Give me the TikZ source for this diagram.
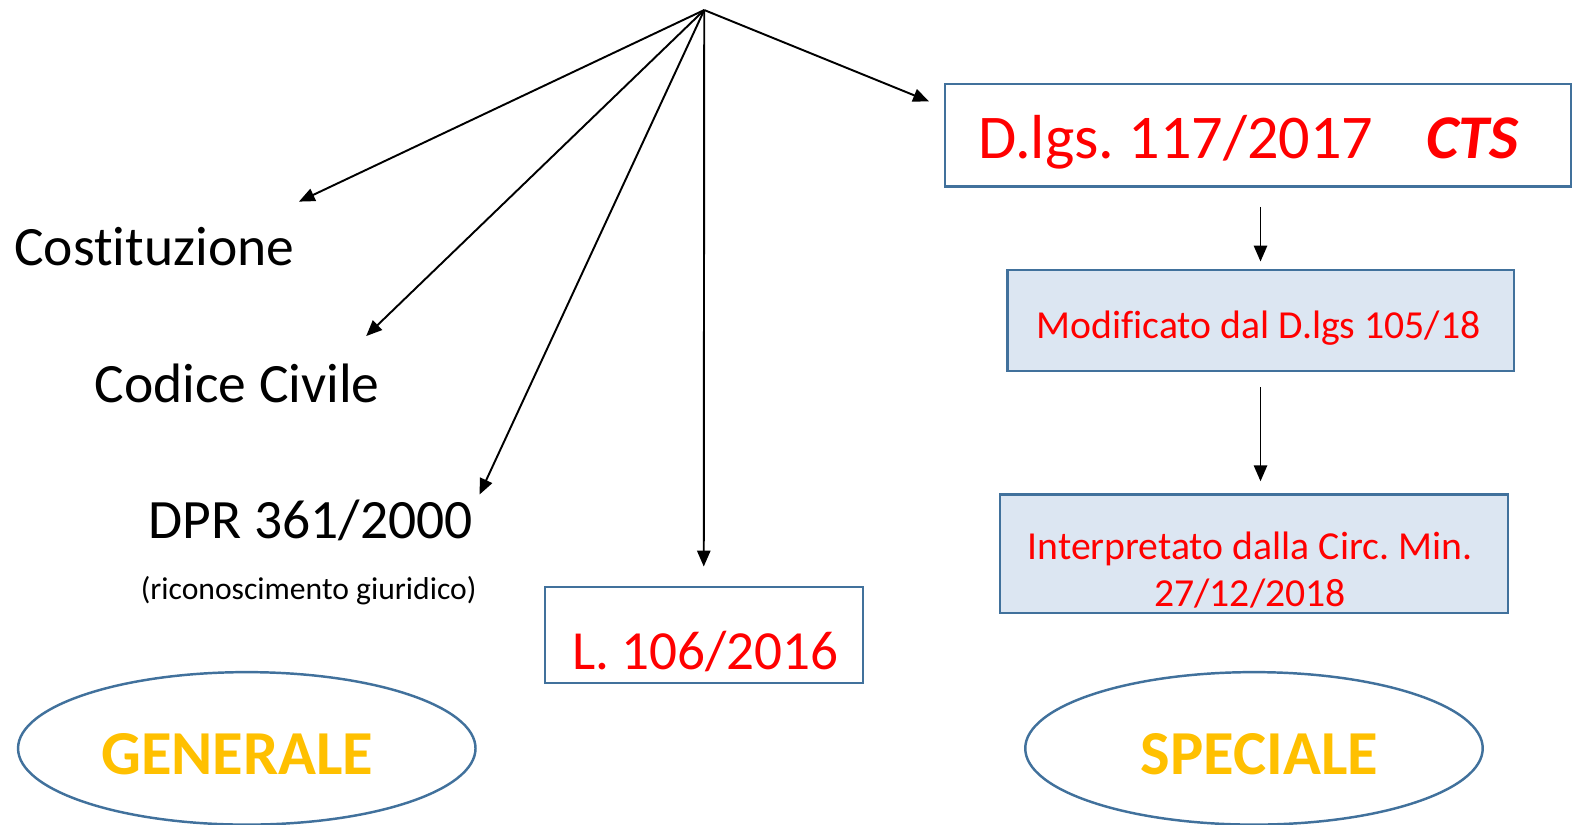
\documentclass[tikz,border=0pt]{standalone}
\usepackage{fontspec}
\setmainfont{Carlito}[Ligatures={NoCommon,NoContextual}]
\frenchspacing
\usetikzlibrary{arrows.meta,shapes.geometric}
\definecolor{bordo}{RGB}{65,113,156}
\definecolor{azzurro}{RGB}{220,230,242}
\definecolor{oro}{RGB}{255,192,0}
\tikzset{
	freccia/.style={-{Triangle[length=9pt,width=7.5pt]}, line width=1.1pt}, % arrows, all black
	riquadro/.style={draw=bordo, line width=1.4pt, rectangle, inner sep=0pt}, % boxes round the laws
	ambito/.style={draw=bordo, line width=1.4pt, ellipse, inner sep=0pt, minimum width=9.15cm, minimum height=3.05cm},
	voce/.style={inner sep=0pt, anchor=base west, font=\fontsize{31.6}{38}\selectfont}, % black sources on the left
	norma/.style={inner sep=0pt, text=red},
	titolo/.style={inner sep=0pt, anchor=base, text=oro, font=\fontsize{35.6}{42}\selectfont\bfseries},
}

\begin{document}
\begin{tikzpicture}[x=0.020064cm, y=-0.020064cm]
	\useasboundingbox (0,0) rectangle (1568,822);

	% boxes and ellipses
	\node[riquadro, minimum width=12.52cm, minimum height=2.05cm] (dlgs) at (1254,135) {};
	\node[riquadro, fill=azzurro, minimum width=10.13cm, minimum height=2.03cm] (mod) at (1256.5,319.5) {};
	\node[riquadro, fill=azzurro, minimum width=10.15cm, minimum height=2.37cm] (interp) at (1250,552) {};
	\node[riquadro, minimum width=6.36cm, minimum height=1.93cm] (legge) at (701.5,633) {};
	\node[ambito] (gen) at (246,746) {};
	\node[ambito] (spec) at (1250,746) {};

	% texts
	\node[voce] (cost) at (14,265) {Costituzione};
	\node[voce] (cc) at (94,401) {Codice Civile};
	\node[voce] (dpr) at (148,537) {DPR 361/2000};
	\node[inner sep=0pt, anchor=base west, font=\fontsize{18}{22}\selectfont] (ric) at (140,598) {(riconoscimento giuridico)};
	\node[norma, anchor=base west, font=\fontsize{35.4}{42}\selectfont] (dlgsT) at (975,158) {D.lgs. 117/2017\hspace{0.85em}\textbf{\textit{CTS}}};
	\node[norma, anchor=base west, font=\fontsize{31.4}{38}\selectfont] (leggeT) at (570,667) {L. 106/2016};
	\node[norma, anchor=base west, font=\fontsize{22.6}{27}\selectfont] (modT) at (1033,337) {Modificato dal D.lgs 105/18};
	\node[norma, anchor=base, align=center, font=\fontsize{22.6}{27}\selectfont] (interpT) at (1246,605) {Interpretato dalla Circ. Min.\\27/12/2018};
	\node[titolo] (genT) at (236.5,772) {GENERALE};
	\node[titolo] (specT) at (1255.5,772) {SPECIALE};

	% arrows from the top point
	\coordinate (vertice) at (702,10);
	\coordinate (aCost) at (298,201);
	\coordinate (aCc) at (365,335);
	\coordinate (aDpr) at (478,493);
	\coordinate (aDlgs) at (926,101);
	\draw[freccia] (vertice) -- (aCost);
	\draw[freccia] (vertice) -- (aCc);
	\draw[freccia] (vertice) -- (aDpr);
	\draw[freccia, shorten >=0.38cm] (vertice) -- (legge.north);
	\draw[freccia] (vertice) -- (aDlgs);

	% chain on the right
	\draw[freccia, shorten <=0.38cm, shorten >=0.14cm] (mod.north |- dlgs.south) -- (mod.north);
	\draw[freccia, shorten <=0.3cm, shorten >=0.24cm] (mod.south) -- (mod.south |- interp.north);
\end{tikzpicture}
\end{document}
